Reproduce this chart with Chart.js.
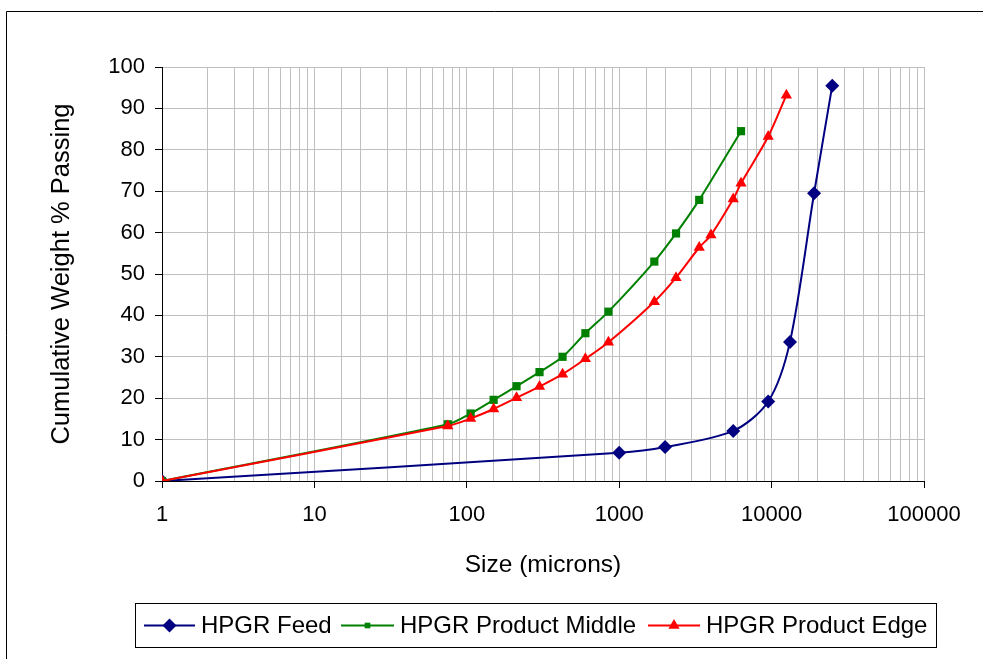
<!DOCTYPE html>
<html>
<head>
<meta charset="utf-8">
<script src="https://cdn.jsdelivr.net/npm/chart.js@4/dist/chart.umd.min.js"></script>
<style>
  html, body { margin: 0; padding: 0; background: #ffffff; }
  #wrap { width: 983px; height: 659px; position: relative; }
</style>
</head>
<body>
<div id="wrap"><canvas id="c" width="983" height="659"></canvas></div>
<script>
// ---- data ----
const seriesNames = ['HPGR Feed', 'HPGR Product Middle', 'HPGR Product Edge'];

const feedSize = [1, 1000, 2000, 5600, 9500, 13200, 19000, 25000];
const feedPass = [0, 6.8, 8.2, 12.1, 19.2, 33.6, 69.5, 95.5];

const middleSize = [1, 75, 106, 150, 212, 300, 425, 600, 850, 1700, 2360, 3350, 6300];
const middlePass = [0, 13.7, 16.3, 19.6, 22.9, 26.3, 30.0, 35.7, 40.9, 53.0, 59.8, 67.9, 84.5];

const edgeSize = [1, 75, 106, 150, 212, 300, 425, 600, 850, 1700, 2360, 3350, 4000, 5600, 6300, 9500, 12500];
const edgePass = [0, 13.3, 15.1, 17.4, 20.1, 22.8, 25.8, 29.5, 33.5, 43.3, 49.1, 56.4, 59.4, 68.1, 71.9, 83.2, 93.2];

const xTickValues = [1, 10, 100, 1000, 10000, 100000];
const yTickValues = [0, 10, 20, 30, 40, 50, 60, 70, 80, 90, 100];

// ---- styles ----
const FONT = "'Liberation Sans', Arial, sans-serif";
const seriesStyles = [
  { color: '#000080', pointStyle: 'rectRot', radius: 7 },
  { color: '#008000', pointStyle: 'rect', radius: 5.8 },
  { color: '#FF0000', pointStyle: 'triangle', radius: 6.5 }
];

function pairs(xs, ys) { return xs.map((x, i) => ({ x: x, y: ys[i] })); }
const seriesData = [pairs(feedSize, feedPass), pairs(middleSize, middlePass), pairs(edgeSize, edgePass)];

const datasets = seriesData.map((d, i) => ({
  label: seriesNames[i],
  data: d,
  borderColor: seriesStyles[i].color,
  backgroundColor: seriesStyles[i].color,
  pointBackgroundColor: seriesStyles[i].color,
  pointBorderColor: seriesStyles[i].color,
  pointBorderWidth: 0,
  pointStyle: seriesStyles[i].pointStyle,
  pointRadius: seriesStyles[i].radius,
  borderWidth: 2,
  tension: 0.3,
  fill: false,
  order: 3 - i
}));

function isMajor(v) {
  const l = Math.log10(v);
  return Math.abs(l - Math.round(l)) < 1e-9;
}

const framePlugin = {
  id: 'frame',
  beforeDraw(chart) {
    const ctx = chart.ctx;
    ctx.save();
    ctx.fillStyle = '#ffffff';
    ctx.fillRect(0, 0, chart.width, chart.height);
    ctx.strokeStyle = '#000000';
    ctx.lineWidth = 1;
    ctx.beginPath();
    ctx.moveTo(6.5, chart.height);
    ctx.lineTo(6.5, 11.5);
    ctx.lineTo(chart.width, 11.5);
    ctx.stroke();
    ctx.restore();
  }
};

const legendPlugin = {
  id: 'boxLegend',
  afterDraw(chart) {
    const ctx = chart.ctx;
    ctx.save();
    const bx = 135, by = 603, bw = 801, bh = 44;
    ctx.strokeStyle = '#000000';
    ctx.lineWidth = 1;
    ctx.strokeRect(bx + 0.5, by + 0.5, bw, bh);
    const cy = by + bh / 2 + 0.5;
    const items = [
      { x0: 144, x1: 195, tx: 201 },
      { x0: 341, x1: 394, tx: 400 },
      { x0: 648, x1: 700, tx: 706 }
    ];
    ctx.font = '24px ' + FONT;
    ctx.textBaseline = 'middle';
    ctx.textAlign = 'left';
    items.forEach((it, i) => {
      const st = seriesStyles[i];
      ctx.strokeStyle = st.color;
      ctx.lineWidth = 2;
      ctx.beginPath();
      ctx.moveTo(it.x0, cy);
      ctx.lineTo(it.x1, cy);
      ctx.stroke();
      ctx.fillStyle = st.color;
      Chart.helpers.drawPoint(ctx, {
        pointStyle: st.pointStyle,
        radius: i === 1 ? 4 : st.radius,
        borderWidth: 0,
        rotation: 0
      }, (it.x0 + it.x1) / 2, cy);
      ctx.fillStyle = '#000000';
      ctx.fillText(seriesNames[i], it.tx, cy + 1);
    });
    ctx.restore();
  }
};

new Chart(document.getElementById('c'), {
  type: 'line',
  data: { datasets: datasets },
  plugins: [framePlugin, legendPlugin],
  options: {
    responsive: false,
    animation: false,
    events: [],
    layout: { padding: { left: 0, top: 67, right: 59, bottom: 79 } },
    plugins: { legend: { display: false }, tooltip: { enabled: false }, title: { display: false } },
    scales: {
      x: {
        type: 'logarithmic',
        min: 1,
        max: 100000,
        afterFit(s) { s.height = 99; },
        ticks: {
          autoSkip: false,
          maxRotation: 0,
          padding: 14,
          color: '#000000',
          font: { family: FONT, size: 22 },
          callback(v) { return xTickValues.includes(v) ? String(v) : ''; }
        },
        grid: {
          color: '#c0c0c0',
          lineWidth: 1,
          tickLength: 7,
          tickColor(ctx) { return ctx.tick && isMajor(ctx.tick.value) ? '#000000' : 'rgba(0,0,0,0)'; }
        },
        border: { color: '#000000', width: 1 },
        title: {
          display: true,
          text: 'Size (microns)',
          color: '#000000',
          font: { family: FONT, size: 24.5 },
          padding: { top: 0, bottom: 0 }
        }
      },
      y: {
        type: 'linear',
        min: 0,
        max: 100,
        afterFit(s) { s.width = 162; },
        afterBuildTicks(s) { s.ticks = yTickValues.map(v => ({ value: v })); },
        ticks: {
          padding: 10,
          color: '#000000',
          font: { family: FONT, size: 22 }
        },
        grid: {
          color: '#c0c0c0',
          lineWidth: 1,
          tickLength: 7,
          tickColor: '#000000'
        },
        border: { color: '#000000', width: 1 },
        title: {
          display: true,
          text: 'Cumulative Weight % Passing',
          color: '#000000',
          font: { family: FONT, size: 25.5 },
          padding: { top: 47, bottom: 0 }
        }
      }
    }
  }
});
</script>
</body>
</html>
